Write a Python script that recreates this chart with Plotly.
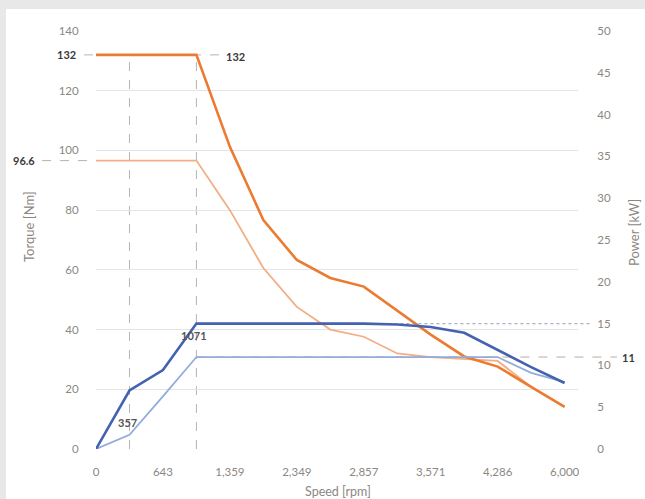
import plotly.graph_objects as go

# ---- data ----
speed_rpm = ["0", "357", "643", "1,071", "1,359", "1,857", "2,349", "2,571",
             "2,857", "3,214", "3,571", "3,929", "4,286", "5,143", "6,000"]
speed_ticks = ["0", "643", "1,359", "2,349", "2,857", "3,571", "4,286", "6,000"]

torque_peak = [132, 132, 132, 132, 101.2, 76.7, 63.3, 57.3, 54.4, 46.2, 38.3, 31.0, 27.6, 20.8, 14.1]
torque_cont = [96.6, 96.6, 96.6, 96.6, 80.0, 60.6, 47.6, 40.0, 37.6, 32.0, 30.8, 30.2, 29.5, 20.8, 14.1]
power_peak = [0, 7.0, 9.45, 15, 15, 15, 15, 15, 15, 14.9, 14.6, 13.9, 11.8, 9.8, 7.9]
power_cont = [0, 1.7, 6.3, 11, 11, 11, 11, 11, 11, 11, 11, 11, 11, 9.1, 8.0]

torque_ticks = [0, 20, 40, 60, 80, 100, 120, 140]
power_ticks = [0, 5, 10, 15, 20, 25, 30, 35, 40, 45, 50]

FONT = "Lato"
TICK_COLOR = "#8c8782"
LABEL_COLOR = "#3a3a3a"
GRID = "#e4e4e4"
REF = "#b5b5b5"

XMAX = 14.4
idx = list(range(len(speed_rpm)))

fig = go.Figure()
fig.add_trace(go.Scatter(x=idx, y=torque_cont, mode="lines",
                         line=dict(color="#f2ae84", width=1.8), yaxis="y"))
fig.add_trace(go.Scatter(x=idx, y=power_cont, mode="lines",
                         line=dict(color="#93acdc", width=1.8), yaxis="y2"))
fig.add_trace(go.Scatter(x=idx, y=torque_peak, mode="lines",
                         line=dict(color="#ec7a30", width=2.6), yaxis="y"))
fig.add_trace(go.Scatter(x=idx, y=power_peak, mode="lines",
                         line=dict(color="#4462b0", width=2.6), yaxis="y2"))

peak_t = max(torque_peak)
cont_t = max(torque_cont)
peak_p = max(power_peak)
cont_p = max(power_cont)
i_357 = speed_rpm.index("357")
i_1071 = speed_rpm.index("1,071")

def px(i):
    return i / XMAX

shapes = []
# background white panel
shapes.append(dict(type="rect", xref="paper", yref="paper",
                   x0=(6 - 96) / 482, x1=(660 - 96) / 482,
                   y0=(449 - 520) / 418, y1=(449 - 9) / 418,
                   fillcolor="white", line=dict(width=0), layer="below"))
# vertical dashed lines
for i in (i_357, i_1071):
    shapes.append(dict(type="line", xref="x", yref="y", x0=i, x1=i, y0=0, y1=peak_t,
                       line=dict(color=REF, width=1, dash="dash"), layer="below"))
# horizontal dashed lines
shapes.append(dict(type="line", xref="paper", yref="y", x0=(84 - 96) / 482, x1=(222 - 96) / 482,
                   y0=peak_t, y1=peak_t, line=dict(color=REF, width=1, dash="dash"), layer="below"))
shapes.append(dict(type="line", xref="paper", yref="y", x0=(42 - 96) / 482, x1=0,
                   y0=cont_t, y1=cont_t, line=dict(color=REF, width=1, dash="dash"), layer="below"))
shapes.append(dict(type="line", xref="paper", yref="y2", x0=px(i_1071), x1=(590 - 96) / 482,
                   y0=peak_p, y1=peak_p, line=dict(color="#a9b0c4", width=1.2, dash="dot"), layer="below"))
shapes.append(dict(type="line", xref="paper", yref="y2", x0=px(i_1071), x1=(617 - 96) / 482,
                   y0=cont_p, y1=cont_p, line=dict(color="#c0aa9a", width=1, dash="dash"), layer="below"))

ann_font = dict(family=FONT, size=11, color=LABEL_COLOR)
C = dict(xanchor="center", yanchor="middle", showarrow=False)
annotations = [
    dict(xref="paper", yref="y", x=(66 - 96) / 482, y=peak_t, text="<b>%g</b>" % peak_t,
         font=ann_font, **C),
    dict(xref="paper", yref="y", x=(24 - 96) / 482, y=cont_t, text="<b>%g</b>" % cont_t,
         font=ann_font, **C),
    dict(xref="x", yref="y", x=i_1071, y=peak_t, xanchor="left", yanchor="middle", xshift=28,
         yshift=-2, text="<b>%g</b>" % peak_t, showarrow=False, font=ann_font),
    dict(xref="paper", yref="y2", x=(628 - 96) / 482, y=cont_p, text="<b>%g</b>" % cont_p,
         font=ann_font, **C),
    dict(xref="x", yref="y2", x=i_357, y=3.2, xshift=-2, text="<b>357</b>",
         font=dict(family=FONT, size=11, color="#555555"), **C),
    dict(xref="x", yref="y2", x=i_1071, y=13.6, xshift=-2, text="<b>1071</b>",
         font=dict(family=FONT, size=11, color="#555555"), **C),
    # axis titles
    dict(xref="paper", yref="paper", x=(29 - 96) / 482, y=(449 - 227) / 418, text="Torque [Nm]",
         textangle=-90, font=dict(family=FONT, size=13, color=TICK_COLOR), **C),
    dict(xref="paper", yref="paper", x=(634 - 96) / 482, y=(449 - 233) / 418, text="Power [kW]",
         textangle=-90, font=dict(family=FONT, size=13, color=TICK_COLOR), **C),
    dict(xref="paper", yref="paper", x=(338 - 96) / 482, y=(449 - 491) / 418, text="Speed [rpm]",
         font=dict(family=FONT, size=12.5, color=TICK_COLOR), **C),
]

tick_idx = [speed_rpm.index(t) for t in speed_ticks]

fig.update_layout(
    width=645, height=499,
    margin=dict(l=96, r=67, t=31, b=50),
    paper_bgcolor="#e8e8e8",
    plot_bgcolor="rgba(0,0,0,0)",
    showlegend=False,
    font=dict(family=FONT, size=11.5, color=TICK_COLOR),
    xaxis=dict(range=[0, XMAX], tickvals=tick_idx, ticktext=speed_ticks,
               showgrid=False, zeroline=False, showline=False,
               ticks="outside", ticklen=12, tickcolor="rgba(0,0,0,0)",
               tickfont=dict(family=FONT, size=11.5, color=TICK_COLOR)),
    yaxis=dict(range=[0, 140], tickvals=torque_ticks, showgrid=True, gridcolor=GRID,
               gridwidth=1, zeroline=False, showline=False,
               ticks="outside", ticklen=14, tickcolor="rgba(0,0,0,0)",
               tickfont=dict(family=FONT, size=11.5, color=TICK_COLOR)),
    yaxis2=dict(range=[0, 50], tickvals=power_ticks, overlaying="y", side="right",
                showgrid=False, zeroline=False, showline=False,
                ticks="outside", ticklen=16, tickcolor="rgba(0,0,0,0)",
                tickfont=dict(family=FONT, size=11.5, color=TICK_COLOR)),
    shapes=shapes,
    annotations=annotations,
)

fig.write_html(
    "out.html",
    config={"displayModeBar": False},
    post_script="document.body.style.margin='0';document.body.style.padding='0';"
                "document.body.style.overflow='hidden';document.body.style.background='#e8e8e8';",
)
